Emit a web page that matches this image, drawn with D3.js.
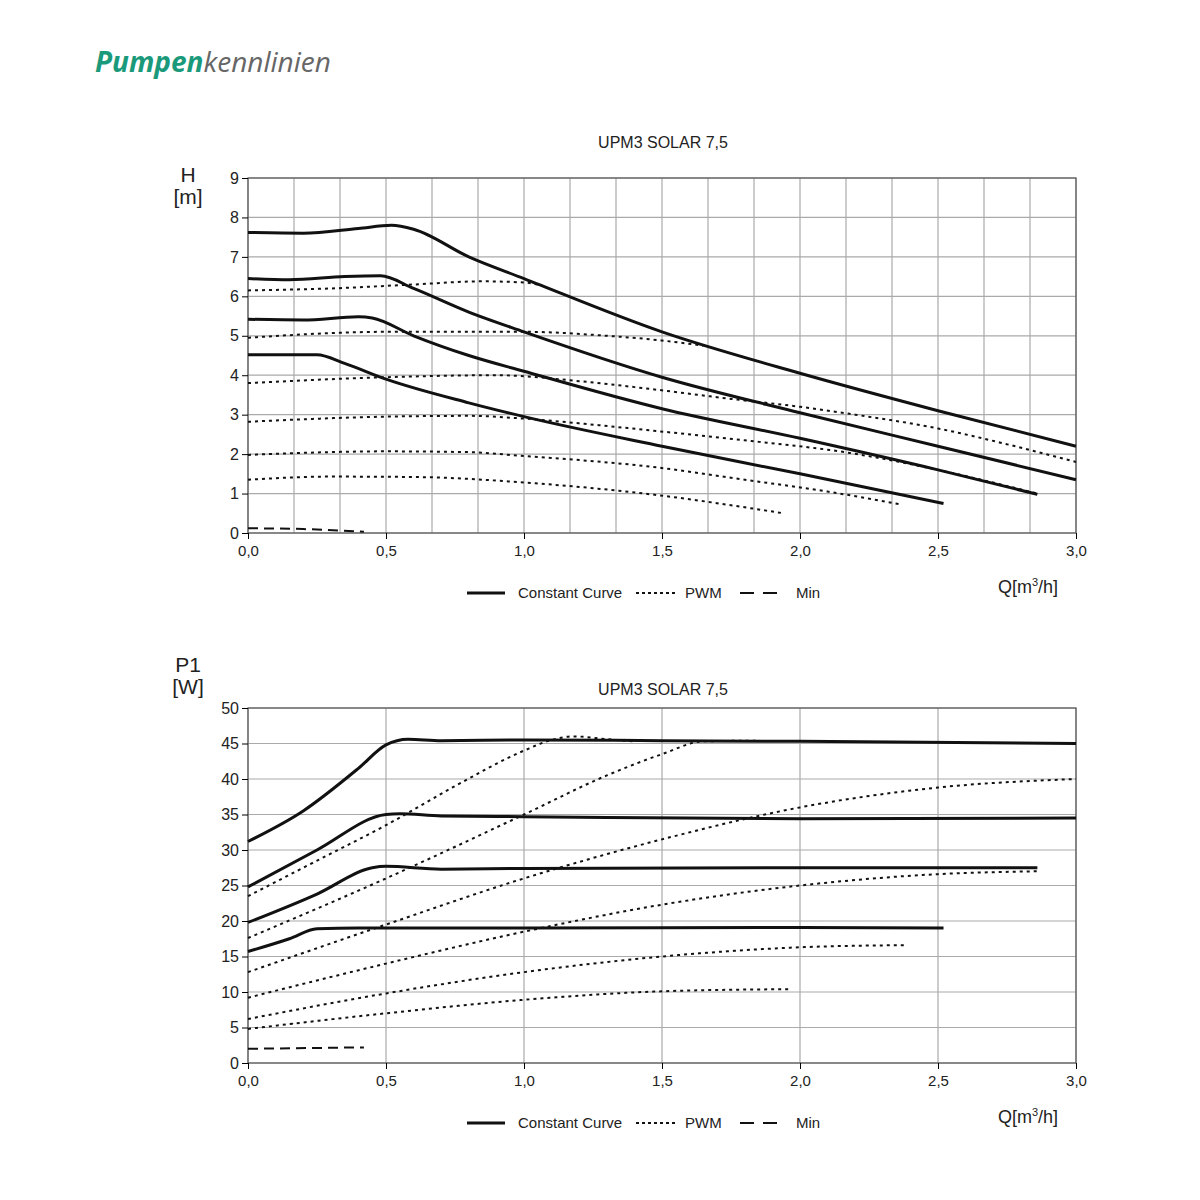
<!DOCTYPE html><html><head><meta charset="utf-8"><script src="https://cdn.jsdelivr.net/npm/d3@7"></script>
<style>body{margin:0;background:#fff}svg{font-family:"Liberation Sans",Arial,sans-serif}</style></head><body><svg id="c" width="1200" height="1200"></svg>
<script>
const hConst=[
[[0,7.62],[0.2,7.6],[0.4,7.72],[0.52,7.8],[0.6,7.7],[0.8,7.0],[1.0,6.45],[1.5,5.1],[2.0,4.05],[2.5,3.1],[3.0,2.2]],
[[0,6.45],[0.15,6.42],[0.35,6.5],[0.48,6.52],[0.6,6.2],[0.8,5.6],[1.0,5.1],[1.5,3.95],[2.0,3.05],[2.5,2.2],[3.0,1.35]],
[[0,5.42],[0.2,5.4],[0.4,5.48],[0.45,5.45],[0.6,5.0],[0.8,4.5],[1.0,4.1],[1.5,3.15],[2.0,2.4],[2.5,1.6],[2.86,0.98]],
[[0,4.52],[0.25,4.52],[0.35,4.3],[0.5,3.9],[0.8,3.3],[1.0,2.95],[1.5,2.2],[2.0,1.5],[2.52,0.75]]];
const hPwm=[
[[0,6.15],[0.3,6.2],[0.6,6.3],[0.85,6.38],[1.0,6.35],[1.05,6.3]],
[[0,4.95],[0.5,5.1],[1.0,5.1],[1.3,5.0],[1.5,4.88],[1.65,4.75]],
[[0,3.8],[0.5,3.95],[0.9,4.0],[1.2,3.85],[1.46,3.65],[1.75,3.4],[2.0,3.2],[2.2,3.0],[2.5,2.65],[2.75,2.25],[3.0,1.8]],
[[0,2.82],[0.5,2.95],[0.8,2.97],[1.0,2.9],[1.2,2.78],[1.46,2.6],[1.8,2.35],[2.18,2.03],[2.5,1.6],[2.86,1.0]],
[[0,1.98],[0.5,2.07],[0.8,2.05],[1.0,1.95],[1.2,1.85],[1.46,1.68],[1.8,1.35],[2.1,1.05],[2.37,0.72]],
[[0,1.35],[0.3,1.43],[0.6,1.42],[1.0,1.28],[1.46,0.98],[1.94,0.5]]];
const hMin=[[0,0.12],[0.2,0.1],[0.42,0.03]];
const pConst=[
[[0,31.2],[0.2,35.5],[0.4,41.5],[0.5,44.8],[0.58,45.6],[0.7,45.4],[1.0,45.5],[1.5,45.4],[2.0,45.3],[3.0,45.0]],
[[0,24.8],[0.25,30],[0.5,35],[0.55,35.1],[0.7,34.8],[1.0,34.7],[2.0,34.4],[3.0,34.5]],
[[0,19.8],[0.25,23.8],[0.45,27.5],[0.5,27.7],[0.7,27.3],[1.0,27.4],[2.0,27.5],[2.86,27.5]],
[[0,15.7],[0.15,17.5],[0.25,18.9],[0.4,19.0],[1.0,19.0],[2.0,19.1],[2.52,19.0]]];
const pPwm=[
[[0,23.5],[0.25,28.5],[0.5,33.5],[0.75,39],[1.0,44],[1.1,45.5],[1.18,46],[1.3,45.6],[1.4,45.3]],
[[0,17.6],[0.5,26],[1.0,35],[1.3,40.5],[1.5,43.5],[1.65,45.3],[1.85,45.4]],
[[0,12.8],[0.5,19.5],[1.0,26],[1.5,31.5],[2.0,36],[2.5,38.8],[3.0,40]],
[[0,9.2],[0.5,14],[1.0,18.5],[1.5,22.3],[2.0,25],[2.5,26.6],[2.86,27]],
[[0,6.2],[0.5,9.8],[1.0,12.8],[1.5,15],[2.0,16.3],[2.38,16.6]],
[[0,4.8],[0.5,7],[1.0,8.9],[1.5,10.1],[1.96,10.4]]];
const pMin=[[0,2],[0.42,2.2]];
const xTicks=[0,0.5,1,1.5,2,2.5,3];
const hTicks=[0,1,2,3,4,5,6,7,8,9];
const pTicks=[0,5,10,15,20,25,30,35,40,45,50];
const fmt=d=>d.toFixed(1).replace('.',',');

const svg=d3.select('#c');
const hd=svg.append('text').attr('x',95).attr('y',72).attr('font-family','"Open Sans",sans-serif').attr('font-style','italic').attr('font-size',28);
hd.append('tspan').attr('fill','#1a9a7a').attr('font-weight','bold').text('Pumpen');
hd.append('tspan').attr('fill','#666').text('kennlinien');

function chart(top,yMax,yTicks,vGrid,cons,pwm,mn,titleY,yl1,yl2,ylY){
  const x=d3.scaleLinear([0,3],[248,1076]);
  const y=d3.scaleLinear([0,yMax],[top+355,top]);
  const g=svg.append('g');
  g.selectAll('.vg').data(vGrid).join('line').attr('x1',d=>x(d)).attr('x2',d=>x(d)).attr('y1',top).attr('y2',top+355).attr('stroke','#999').attr('stroke-width',1);
  g.selectAll('.hg').data(yTicks).join('line').attr('x1',248).attr('x2',1076).attr('y1',d=>y(d)).attr('y2',d=>y(d)).attr('stroke','#aaa').attr('stroke-width',1.2);
  g.append('rect').attr('x',248).attr('y',top).attr('width',828).attr('height',355).attr('fill','none').attr('stroke','#555').attr('stroke-width',1.2);
  const ya=g.append('g').attr('transform','translate(248,0)').call(d3.axisLeft(y).tickValues(yTicks).tickSize(6).tickFormat(d3.format('d')));
  ya.select('.domain').remove();ya.selectAll('text').attr('font-size',16).attr('fill','#222');
  const xa=g.append('g').attr('transform',`translate(0,${top+355})`).call(d3.axisBottom(x).tickValues(xTicks).tickSize(6).tickFormat(fmt));
  xa.select('.domain').remove();xa.selectAll('text').attr('font-size',15).attr('fill','#222').attr('dy','0.9em');
  const line=d3.line().x(d=>x(d[0])).y(d=>y(d[1])).curve(d3.curveMonotoneX);
  g.selectAll('.pw').data(pwm).join('path').attr('d',line).attr('fill','none').attr('stroke','#111').attr('stroke-width',2).attr('stroke-dasharray','3,4');
  g.selectAll('.cs').data(cons).join('path').attr('d',line).attr('fill','none').attr('stroke','#111').attr('stroke-width',3);
  g.append('path').attr('d',line(mn)).attr('fill','none').attr('stroke','#111').attr('stroke-width',2).attr('stroke-dasharray','10,6');
  g.append('text').attr('x',663).attr('y',titleY).attr('text-anchor','middle').attr('font-size',16).attr('fill','#222').text('UPM3 SOLAR 7,5');
  g.append('text').attr('x',188).attr('y',ylY).attr('text-anchor','middle').attr('font-size',21).attr('fill','#222').text(yl1);
  g.append('text').attr('x',188).attr('y',ylY+22).attr('text-anchor','middle').attr('font-size',21).attr('fill','#222').text(yl2);
  const ql=g.append('text').attr('x',1028).attr('y',top+415).attr('text-anchor','middle').attr('font-size',18).attr('fill','#222');
  ql.append('tspan').text('Q[m');ql.append('tspan').attr('font-size',11).attr('dy',-7).text('3');ql.append('tspan').attr('dy',7).text('/h]');
  const ly=top+415;
  const lg=[[467,505,3,null,518,'Constant Curve'],[636,675,2,'3,3',685,'PWM'],[740,783,2,'14,9',796,'Min']];
  lg.forEach(l=>{g.append('line').attr('x1',l[0]).attr('x2',l[1]).attr('y1',ly).attr('y2',ly).attr('stroke','#111').attr('stroke-width',l[2]).attr('stroke-dasharray',l[3]);
    g.append('text').attr('x',l[4]).attr('y',ly+5).attr('font-size',15).attr('fill','#222').text(l[5]);});
}
chart(178,9,hTicks,d3.range(0,3.0001,1/6),hConst,hPwm,hMin,148,'H','[m]',182);
chart(708,50,pTicks,xTicks,pConst,pPwm,pMin,695,'P1','[W]',672);
</script></body></html>
